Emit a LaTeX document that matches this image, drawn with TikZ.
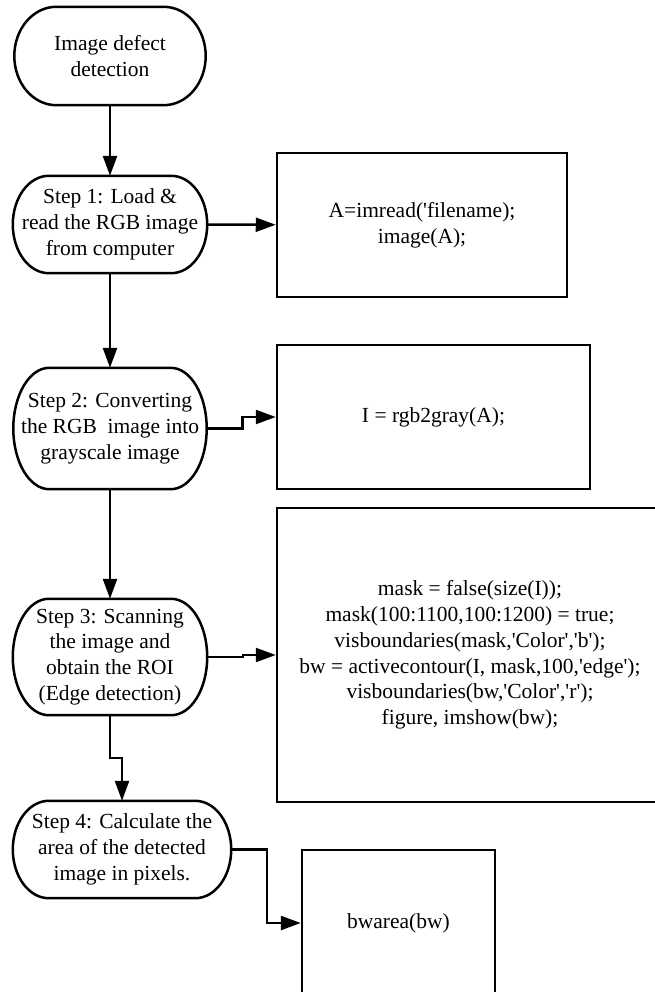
\documentclass[tikz,border=0pt]{standalone}
\usepackage{fontspec}
\setmainfont{Liberation Serif}
\newfontfamily\flowfont{Liberation Serif}
\usetikzlibrary{arrows.meta,calc}

\newcommand{\sq}{\textquotesingle}

\begin{document}
\begin{tikzpicture}[x=1pt,y=1pt,
  every node/.style={font=\flowfont\fontsize{21.5}{25.8}\selectfont},
  term/.style={rectangle,inner sep=0pt,align=center},
  codebox/.style={rectangle,draw,line width=2.5pt,inner sep=0pt,align=center},
  flow/.style={line width=2.5pt,-{Triangle[length=20pt,width=14pt]}}]

\useasboundingbox (0,0) rectangle (654,-992);

% start node
\node[term,minimum width=191pt,minimum height=98pt] (start) at (110,-56) {Image defect\\detection};

% step nodes
\node[term,minimum width=194pt,minimum height=97pt] (s1) at (110,-224.5) {Step 1: Load \&\\read the RGB image\\from computer};
\node[term,minimum width=193pt,minimum height=121pt] (s2) at (110,-428.5) {Step 2: Converting\\the RGB~ image into\\grayscale image};
\node[term,minimum width=194pt,minimum height=116pt] (s3) at (110,-657) {Step 3: Scanning\\the image and\\obtain the ROI\\(Edge detection)};
\node[term,minimum width=218pt,minimum height=97pt] (s4) at (122,-849.5) {Step 4: Calculate the\\area of the detected\\image in pixels.};

% terminator outlines
\foreach \nd/\r in {start/42,s1/36,s2/36,s3/36,s4/36}
  \draw[line width=2.5pt] let \p1=(\nd.north west), \p2=(\nd.south east), \n1={(\y1-\y2)/2} in
    (\x1+\r pt,\y1) -- (\x2-\r pt,\y1)
    arc[start angle=90,end angle=-90,x radius=\r pt,y radius=\n1]
    -- (\x1+\r pt,\y2)
    arc[start angle=270,end angle=90,x radius=\r pt,y radius=\n1] -- cycle;

% code boxes
\node[codebox,minimum width=290pt,minimum height=144pt] (b1) at (422,-225) {A=imread(\sq filename);\\image(A);};
\node[codebox,minimum width=313pt,minimum height=144pt] (b2) at (433.5,-417) {I = rgb2gray(A);};
\node[codebox,minimum width=386pt,minimum height=294pt] (b3) at (470,-655) {mask = false(size(I));\\mask(100:1100,100:1200) = true;\\visboundaries(mask,\sq Color\sq,\sq b\sq);\\bw = activecontour(I, mask,100,\sq edge\sq);\\visboundaries(bw,\sq Color\sq,\sq r\sq);\\figure, imshow(bw);};
\node[codebox,minimum width=193pt,minimum height=146pt] (b4) at (398.5,-923) {bwarea(bw)};

% connectors
\draw[flow] (start) -- (s1);
\draw[flow] (s1) -- (b1);
\draw[flow] (s1) -- (s2);
\draw[flow] (s2.east) -- ++(36,0) |- (b2.west);
\draw[flow] (s2) -- (s3);
\draw[flow] (s3.east) -- ++(36,0) |- (b3.west);
\draw[flow] (s3.south) -- ++(0,-43) -| (s4.north);
\draw[flow] (s4.east) -- ++(36,0) |- (b4.west);

\end{tikzpicture}
\end{document}
